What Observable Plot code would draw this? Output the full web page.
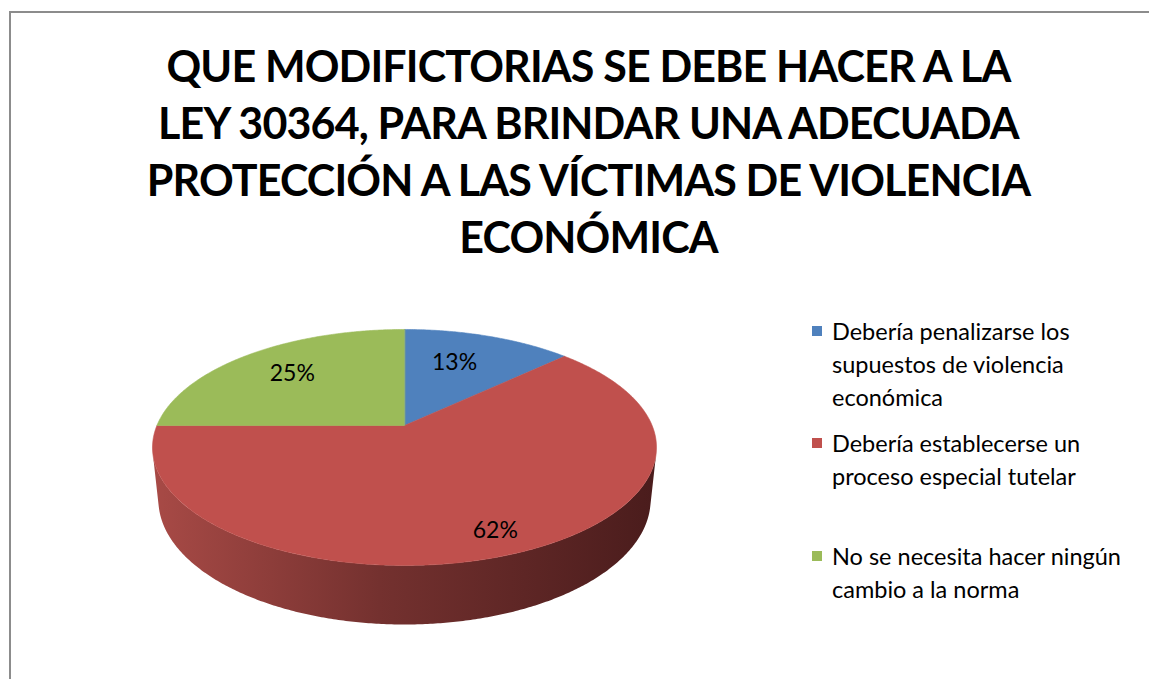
<!DOCTYPE html>
<html><head><meta charset="utf-8">
<script src="https://cdn.jsdelivr.net/npm/d3@7"></script>
<script src="https://cdn.jsdelivr.net/npm/@observablehq/plot@0.6"></script>
<style>
body{margin:0;background:#fff;}
#wrap{position:relative;width:1149px;height:679px;overflow:hidden;font-family:Lato,"Open Sans",sans-serif;color:#000;}
#frame{position:absolute;left:9px;top:11px;width:1200px;height:700px;border-left:2px solid #8c8c8c;border-top:2px solid #8c8c8c;}
#chart{position:absolute;left:0;top:0;}
#title{position:absolute;left:0;width:1177px;top:36.5px;text-align:center;font-weight:700;font-size:43px;line-height:57.3px;letter-spacing:-0.85px;}
.leg{position:absolute;left:812px;width:340px;font-size:23.5px;line-height:33px;}
.leg .sw{position:absolute;left:0;top:11px;width:10px;height:10px;}
.leg .tx{margin-left:20px;width:312px;}
</style></head>
<body>
<div id="wrap"><div id="frame"></div><div id="chart"></div><div id="title"></div></div>
<script>
// ---- data ----
const titleLines = [
  "QUE MODIFICTORIAS SE DEBE HACER A LA",
  "LEY 30364, PARA BRINDAR UNA ADECUADA",
  "PROTECCIÓN A LAS VÍCTIMAS DE VIOLENCIA",
  "ECONÓMICA"
];
const categories = [
  "Debería penalizarse los supuestos de violencia económica",
  "Debería establecerse un proceso especial tutelar",
  "No se necesita hacer ningún cambio a la norma"
];
const values = [13, 62, 25];
const valueLabels = ["13%", "62%", "25%"];
const colors = ["#4f81bd", "#c0504d", "#9bbb59"];
const sideColors = [["#6e94c8","#2d4a70"], ["#a84a46","#4a1c1c"], ["#8aa850","#4b5c2a"]];
const labelRadius = [0.66, 0.85, 0.7];

// ---- view / style ----
const W = 1149, H = 679;
const CX = 404, CY = 425, K = 247.6;   // pixel centre and scale of the pie
const SA = 0.46, CA = Math.sqrt(1 - SA*SA), DIST = 4.77, DEPTH = 0.2395;

function proj(theta, r, yw) {
  const x = r * Math.sin(theta), z = r * Math.cos(theta);
  const Y = yw * CA + z * SA, D = z * CA - yw * SA;
  const s = DIST / (DIST + D);
  return {u: x * s, v: Y * s};
}

const pie = d3.pie().sort(null)(values);
const step = Math.PI / 360;
function arcPts(a, b, yw) {
  const n = Math.max(2, Math.ceil((b - a) / step));
  return d3.range(n + 1).map(i => proj(a + (b - a) * i / n, 1, yw));
}

// top faces
const topPts = [];
pie.forEach((p, i) => {
  const c = proj(0, 0, 0);
  topPts.push({...c, slice: i, color: colors[i]});
  arcPts(p.startAngle, p.endAngle, 0).forEach(q => topPts.push({...q, slice: i, color: colors[i]}));
});

// visible side wall (near half, limited by silhouette)
const zCam = -DIST * CA;
const visA = Math.acos(1 / zCam), visB = 2 * Math.PI - visA;
const sides = [];
pie.forEach((p, i) => {
  const a = Math.max(p.startAngle, visA), b = Math.min(p.endAngle, visB);
  if (b > a) {
    const pts = arcPts(a, b, 0).concat(arcPts(a, b, -DEPTH).reverse());
    sides.push({i, pts});
  }
});

// labels
const labelData = pie.map((p, i) => {
  const m = (p.startAngle + p.endAngle) / 2 - (i === 0 ? 0.06 : 0);
  return {...proj(m, labelRadius[i], 0), text: valueLabels[i]};
});

const marks = [];
sides.forEach(s => marks.push(Plot.line(s.pts, {x: "u", y: "v", fill: `url(#side${s.i})`, stroke: "none", curve: "linear-closed"})));
marks.push(Plot.line(topPts, {x: "u", y: "v", z: "slice", fill: "color", stroke: "color", strokeWidth: 0.6, curve: "linear-closed"}));
marks.push(Plot.text(labelData, {x: "u", y: "v", text: "text", fontSize: 23, fontFamily: "Lato, 'Open Sans', sans-serif", fill: "#000"}));

const chart = Plot.plot({
  width: W, height: H, margin: 0,
  x: {type: "linear", domain: [-CX / K, (W - CX) / K], range: [0, W], axis: null},
  y: {type: "linear", domain: [-(H - CY) / K, CY / K], range: [H, 0], axis: null},
  style: {background: "transparent"},
  marks
});
const defs = d3.select(chart).insert("defs", ":first-child");
sides.forEach(s => {
  const g = defs.append("linearGradient").attr("id", `side${s.i}`).attr("x1", 0).attr("x2", 1).attr("y1", 0).attr("y2", 0);
  const [c0, c1] = sideColors[s.i];
  g.append("stop").attr("offset", "0%").attr("stop-color", c0);
  g.append("stop").attr("offset", "45%").attr("stop-color", d3.interpolateRgb(c0, c1)(0.55));
  g.append("stop").attr("offset", "100%").attr("stop-color", c1);
});
document.getElementById("chart").appendChild(chart);

// title
document.getElementById("title").innerHTML = titleLines.map(t => `<div>${t}</div>`).join("");

// legend
const wrap = document.getElementById("wrap");
categories.forEach((c, i) => {
  const e = document.createElement("div");
  e.className = "leg";
  e.style.top = (314.5 + i * 112.5) + "px";
  e.innerHTML = `<div class="sw" style="background:${colors[i]}"></div><div class="tx">${c}</div>`;
  wrap.appendChild(e);
});
</script>
</body></html>
